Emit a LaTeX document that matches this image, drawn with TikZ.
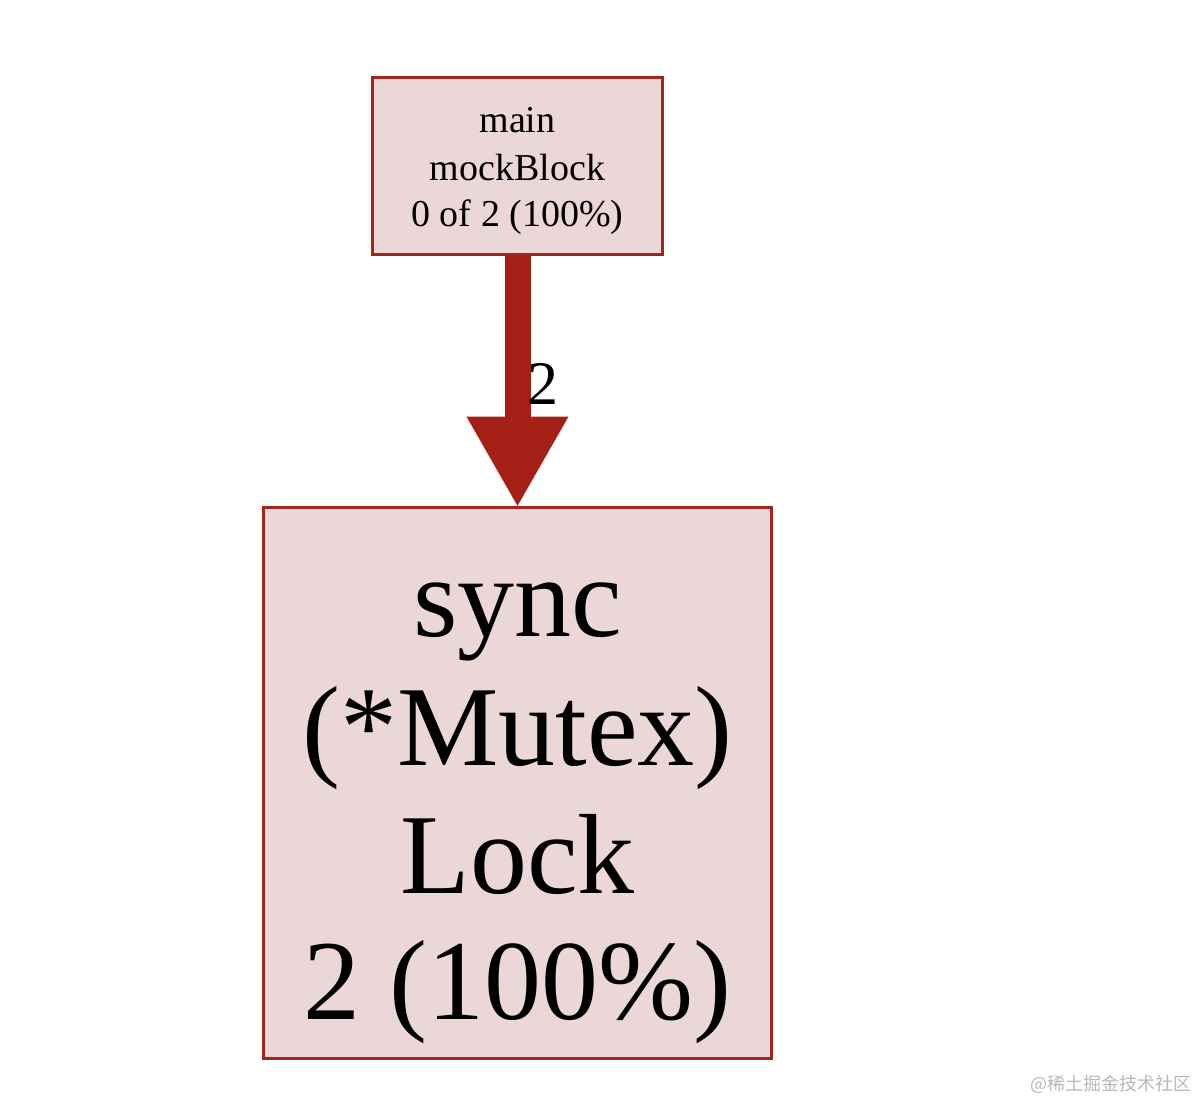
\documentclass[tikz,border=0pt]{standalone}
\usepackage{fontspec}
\setmainfont{Liberation Serif}
\newfontfamily\cjk{Noto Sans CJK SC}
\usetikzlibrary{arrows.meta}
\definecolor{edgered}{RGB}{164,32,22}
\definecolor{boxborder}{RGB}{162,38,30}
\definecolor{boxfill}{RGB}{235,215,215}
\begin{document}
\begin{tikzpicture}[x=0.5pt,y=-0.5pt,
  fnbox/.style={draw=boxborder, fill=boxfill, line width=1.5pt, inner sep=0pt, outer sep=0pt},
  linetext/.style={anchor=base, inner sep=0pt, outer sep=0pt},
  smalltext/.style={linetext, font=\fontsize{19}{23}\selectfont},
  bigtext/.style={linetext, font=\fontsize{57}{65}\selectfont},
]
\useasboundingbox (0,0) rectangle (1198,1102);
\node[fnbox, minimum width=145pt, minimum height=88.5pt] (top) at (517.5,166) {};
\node[fnbox, minimum width=254pt, minimum height=275.5pt] (bot) at (517.5,783) {};
\node[smalltext] (t1) at (517.5,133) {main};
\node[smalltext] (t2) at (517.5,180) {mockBlock};
\node[smalltext] (t3) at (517.5,226) {0 of 2 (100\%)};
\node[bigtext] (b1) at (517.5,636) {sync};
\node[bigtext] (b2) at (517.5,765) {(*Mutex)};
\node[bigtext] (b3) at (517.5,893) {Lock};
\node[bigtext] (b4) at (517.5,1019) {2 (100\%)};
\draw[edgered, line width=13pt, -{Triangle[width=47.5pt,length=45.5pt]}] (top) -- (bot);
\node[linetext, font=\fontsize{31}{31}\selectfont] (lbl) at (543,404) {2};
\node[anchor=east, inner sep=0pt, text=black!28, font=\cjk\fontsize{9}{9}\selectfont] (wm) at (1192,1084) {@稀土掘金技术社区};
\end{tikzpicture}
\end{document}
